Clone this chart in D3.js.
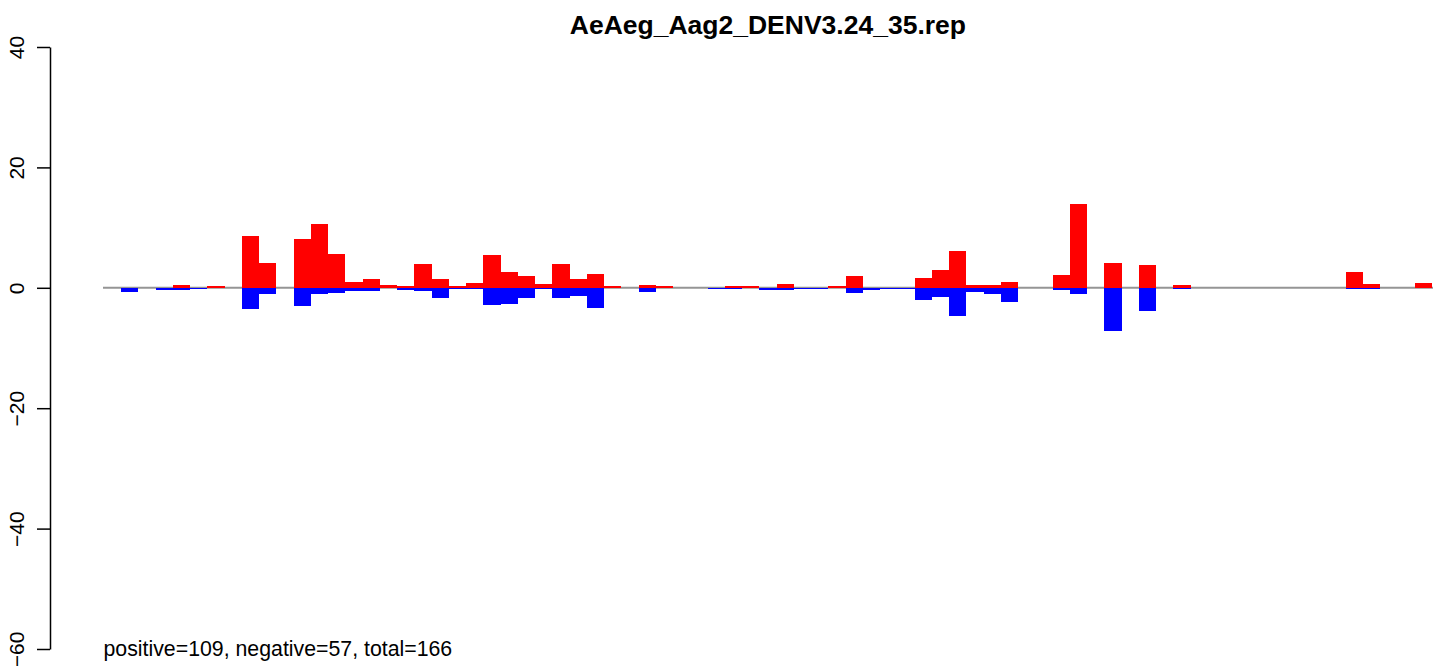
<!DOCTYPE html>
<html>
<head>
<meta charset="utf-8">
<script src="https://cdn.jsdelivr.net/npm/d3@7"></script>
<style>
  html, body { margin: 0; padding: 0; background: #fff; }
  svg { display: block; font-family: "Liberation Sans", Arial, sans-serif; }
</style>
</head>
<body>
<svg id="chart" width="1439" height="666"></svg>
<script>
// ---- data ----
const chartTitle = "AeAeg_Aag2_DENV3.24_35.rep";
const summaryText = "positive=109, negative=57, total=166";
const bins = d3.range(77); // bin index along the sequence
const positiveValues = [
  0, 0, 0, 0, 0.4, 0, 0.3, 0, 8.6, 4.15,
  0, 8.1, 10.6, 5.65, 1.0, 1.5, 0.5, 0.3, 4.0, 1.5,
  0.3, 0.85, 5.5, 2.65, 2.0, 0.65, 4.0, 1.5, 2.3, 0.3,
  0, 0.5, 0.3, 0, 0, 0, 0.3, 0.3, 0, 0.65,
  0, 0, 0.3, 2.0, 0, 0, 0, 1.65, 3.0, 6.15,
  0.5, 0.5, 1.0, 0, 0, 2.15, 13.95, 0, 4.15, 0,
  3.8, 0, 0.5, 0, 0, 0, 0, 0, 0, 0,
  0, 0, 2.65, 0.65, 0, 0, 0.85
];
const negativeValues = [
  0, -0.7, 0, -0.3, -0.4, -0.2, 0, 0, -3.6, -0.95,
  0, -3.1, -0.95, -0.8, -0.6, -0.45, 0, -0.3, -0.5, -1.65,
  -0.2, -0.2, -2.8, -2.65, -1.65, -0.2, -1.65, -1.3, -3.3, 0,
  0, -0.7, 0, 0, 0, -0.2, -0.2, 0, -0.4, -0.4,
  -0.2, -0.2, 0, -0.85, -0.35, -0.2, -0.2, -2.0, -1.5, -4.65,
  -0.65, -1.0, -2.3, 0, 0, -0.35, -1.0, 0, -7.15, 0,
  -3.8, 0, -0.2, 0, 0, 0, 0, 0, 0, 0,
  0, 0, -0.2, -0.2, 0, 0, 0
];
const yTicks = [-60, -40, -20, 0, 20, 40];

// ---- layout ----
const svg = d3.select("#chart");
const plotLeft = 103.75, plotRight = 1432;
const x = d3.scaleLinear().domain([0, bins.length]).range([plotLeft, plotRight]);
const y = d3.scaleLinear().domain([-60, 40]).range([649, 47]);

// zero reference line
svg.append("line")
  .attr("x1", 103).attr("x2", 1433)
  .attr("y1", y(0)).attr("y2", y(0))
  .attr("stroke", "#959595").attr("stroke-width", 2);

// positive bars
svg.append("g").selectAll("rect")
  .data(bins.filter(i => positiveValues[i] !== 0))
  .join("rect")
  .attr("x", i => x(i))
  .attr("width", i => x(i + 1) - x(i))
  .attr("y", i => y(positiveValues[i]))
  .attr("height", i => y(0) - y(positiveValues[i]))
  .attr("fill", "#ff0000")
  .attr("shape-rendering", "crispEdges");

// negative bars
svg.append("g").selectAll("rect")
  .data(bins.filter(i => negativeValues[i] !== 0))
  .join("rect")
  .attr("x", i => x(i))
  .attr("width", i => x(i + 1) - x(i))
  .attr("y", y(0))
  .attr("height", i => y(negativeValues[i]) - y(0))
  .attr("fill", "#0000ff")
  .attr("shape-rendering", "crispEdges");

// y axis
const axisG = svg.append("g")
  .attr("transform", "translate(50,0)")
  .call(d3.axisLeft(y).tickValues(yTicks).tickSize(13).tickSizeOuter(0).tickFormat(d3.format("d")));
axisG.select(".domain").attr("stroke", "#000").attr("stroke-width", 1.5);
axisG.selectAll(".tick line").attr("stroke", "#000").attr("stroke-width", 1.5);
axisG.selectAll(".tick text")
  .attr("x", null).attr("dy", null)
  .attr("transform", "translate(-26,0) rotate(-90)")
  .attr("text-anchor", "middle")
  .attr("fill", "#000")
  .style("font-size", "21px")
  .style("font-family", "'Liberation Sans', Arial, sans-serif")
  .text(d => d < 0 ? "\u2212" + Math.abs(d) : d);

// title
svg.append("text")
  .attr("x", (plotLeft + plotRight) / 2)
  .attr("y", 33.5)
  .attr("text-anchor", "middle")
  .style("font-size", "26.5px")
  .style("font-weight", "bold")
  .text(chartTitle);

// summary text
svg.append("text")
  .attr("x", 103.5)
  .attr("y", 656)
  .style("font-size", "21.3px")
  .text(summaryText);
</script>
</body>
</html>
